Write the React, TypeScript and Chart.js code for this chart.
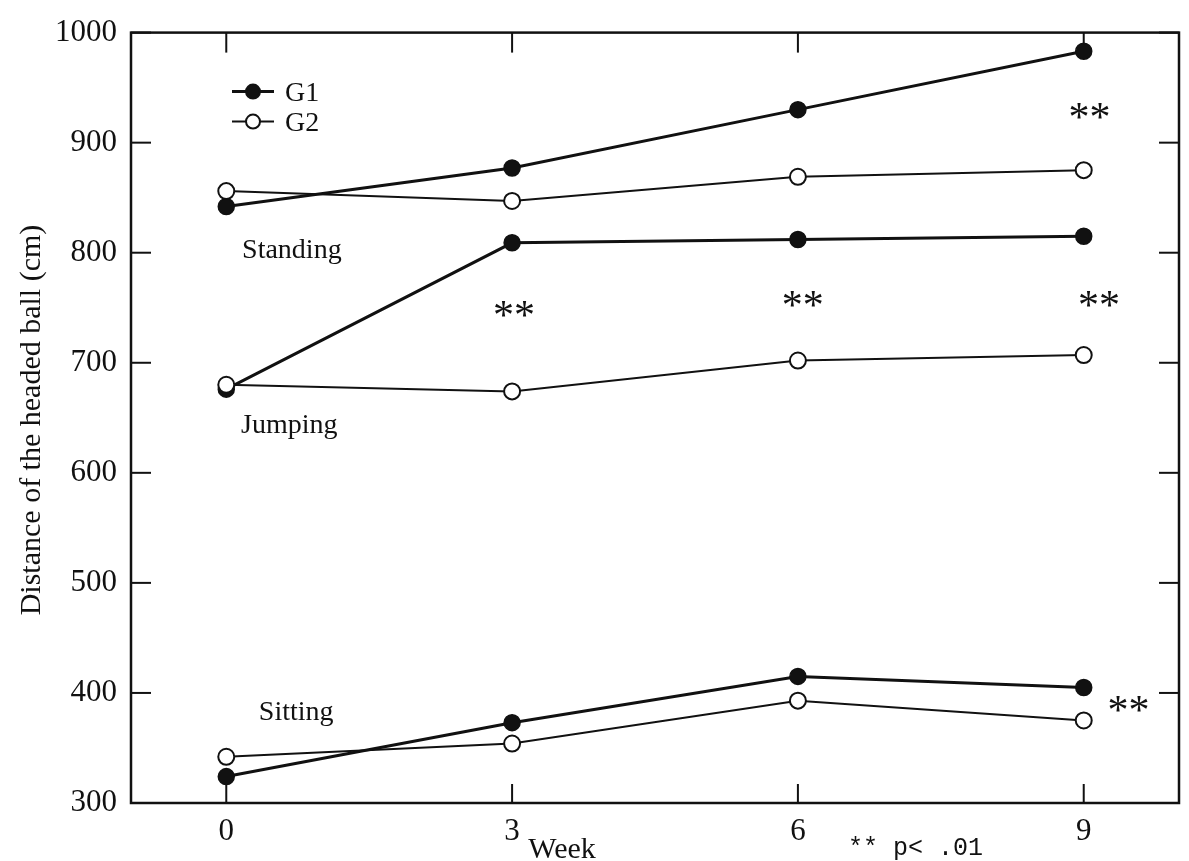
import React, { useEffect, useRef } from "react";
import { Chart, registerables } from "chart.js";

Chart.register(...registerables);

// ---- data ----
const weeks = [0, 3, 6, 9];
const standingG1 = [842, 877, 930, 983];
const standingG2 = [856, 847, 869, 875];
const jumpingG1 = [676, 809, 812, 815];
const jumpingG2 = [680, 674, 702, 707];
const sittingG1 = [324, 373, 415, 405];
const sittingG2 = [342, 354, 393, 375];

const xTickValues = [0, 3, 6, 9];
const yTickValues = [300, 400, 500, 600, 700, 800, 900, 1000];
const legendLabels = ["G1", "G2"];
const conditionNames = ["Standing", "Jumping", "Sitting"];
const conditionAnchorX = [0.166, 0.155, 0.342];
const conditionAnchorY = [795, 636, 375];
const sigX = [3.02, 6.05, 9.16, 9.06, 9.47];
const sigY = [749, 758, 758, 929, 390];
const sigText = "**";
const xTitle = "Week";
const yTitle = "Distance of the headed ball (cm)";
const pNote = "** p< .01";

const SERIF = "'Liberation Serif', 'Times New Roman', serif";
const INK = "#111";

function toXY(vals: number[]) {
  return weeks.map((w, i) => ({ x: w, y: vals[i] }));
}

function g1(vals: number[], name: string) {
  return {
    label: name,
    data: toXY(vals),
    borderColor: INK,
    borderWidth: 3,
    pointRadius: 8,
    pointBorderWidth: 1.5,
    pointBackgroundColor: INK,
    pointBorderColor: INK,
    showLine: true,
    order: 1,
  };
}
function g2(vals: number[], name: string) {
  return {
    label: name,
    data: toXY(vals),
    borderColor: INK,
    borderWidth: 2,
    pointRadius: 8,
    pointBorderWidth: 2,
    pointBackgroundColor: "#fff",
    pointBorderColor: INK,
    showLine: true,
    order: 0,
  };
}

function line(ctx: CanvasRenderingContext2D, x1: number, y1: number, x2: number, y2: number) {
  ctx.beginPath();
  ctx.moveTo(x1, y1);
  ctx.lineTo(x2, y2);
  ctx.stroke();
}

function centeredText(ctx: CanvasRenderingContext2D, text: string, cx: number, cy: number) {
  const m = ctx.measureText(text);
  const asc = m.actualBoundingBoxAscent;
  const desc = m.actualBoundingBoxDescent;
  ctx.textAlign = "center";
  ctx.textBaseline = "alphabetic";
  ctx.fillText(text, cx, cy + (asc - desc) / 2);
}

const framePlugin = {
  id: "frame",
  beforeDatasetsDraw(chart: any) {
    const { ctx, chartArea: a, scales } = chart;
    const xs = scales.x;
    const ys = scales.y;
    ctx.save();
    ctx.strokeStyle = INK;
    ctx.lineWidth = 2.5;
    ctx.strokeRect(a.left, a.top, a.right - a.left, a.bottom - a.top);
    ctx.lineWidth = 2;
    xTickValues.forEach((v) => {
      const px = xs.getPixelForValue(v);
      line(ctx, px, a.bottom, px, a.bottom - 19);
      line(ctx, px, a.top, px, a.top + 20);
    });
    yTickValues.forEach((v) => {
      const py = ys.getPixelForValue(v);
      line(ctx, a.left, py, a.left + 20, py);
      line(ctx, a.right, py, a.right - 20, py);
    });
    ctx.restore();
  },
  afterDraw(chart: any) {
    const { ctx, chartArea: a, scales } = chart;
    const xs = scales.x;
    const ys = scales.y;
    ctx.save();
    ctx.fillStyle = INK;
    ctx.strokeStyle = INK;

    // legend
    legendLabels.forEach((lab, i) => {
      const y = a.top + 59 + i * 30;
      ctx.lineWidth = i === 0 ? 3 : 2;
      line(ctx, a.left + 101, y, a.left + 143, y);
      ctx.beginPath();
      ctx.arc(a.left + 122, y, 7, 0, Math.PI * 2);
      ctx.fillStyle = i === 0 ? INK : "#fff";
      ctx.fill();
      ctx.lineWidth = 2;
      ctx.stroke();
      ctx.fillStyle = INK;
      ctx.font = `28px ${SERIF}`;
      ctx.textAlign = "left";
      ctx.textBaseline = "alphabetic";
      ctx.fillText(lab, a.left + 154, y + 9);
    });

    // condition names
    ctx.font = `28px ${SERIF}`;
    ctx.textAlign = "left";
    ctx.textBaseline = "alphabetic";
    conditionNames.forEach((n, i) => {
      ctx.fillText(n, xs.getPixelForValue(conditionAnchorX[i]), ys.getPixelForValue(conditionAnchorY[i]));
    });

    // significance marks
    ctx.font = `42px ${SERIF}`;
    sigX.forEach((x, i) => {
      centeredText(ctx, sigText, xs.getPixelForValue(x), ys.getPixelForValue(sigY[i]));
    });

    // axis titles
    ctx.font = `30px ${SERIF}`;
    ctx.textAlign = "center";
    ctx.textBaseline = "alphabetic";
    ctx.fillText(xTitle, 562, 858);

    ctx.save();
    ctx.translate(40, 420);
    ctx.rotate(-Math.PI / 2);
    ctx.textAlign = "center";
    ctx.textBaseline = "alphabetic";
    ctx.font = `30px ${SERIF}`;
    ctx.fillText(yTitle, 0, 0);
    ctx.restore();

    // p note
    ctx.font = `25px 'Liberation Mono', monospace`;
    ctx.textAlign = "left";
    ctx.fillText(pNote, 848, 855);

    ctx.restore();
  },
};

export default function App() {
  const ref = useRef<HTMLCanvasElement | null>(null);
  useEffect(() => {
    if (!ref.current) return;
    const chart = new Chart(ref.current, {
      type: "scatter",
      data: {
        datasets: [
          g1(standingG1, "Standing G1"),
          g2(standingG2, "Standing G2"),
          g1(jumpingG1, "Jumping G1"),
          g2(jumpingG2, "Jumping G2"),
          g1(sittingG1, "Sitting G1"),
          g2(sittingG2, "Sitting G2"),
        ] as any,
      },
      options: {
        animation: false,
        responsive: true,
        maintainAspectRatio: false,
        layout: { padding: { top: 24, right: 1, left: 0, bottom: 0 } },
        plugins: { legend: { display: false }, tooltip: { enabled: false } },
        scales: {
          x: {
            type: "linear",
            min: -1,
            max: 10,
            grid: { display: false, drawTicks: false },
            border: { display: false },
            afterBuildTicks: (s: any) => {
              s.ticks = xTickValues.map((v) => ({ value: v }));
            },
            afterFit: (s: any) => {
              s.height = 58;
            },
            ticks: {
              color: INK,
              padding: 10,
              font: { family: SERIF, size: 31 },
              callback: (v: any) => String(v),
            },
          },
          y: {
            type: "linear",
            min: 300,
            max: 1000,
            grid: { display: false, drawTicks: false },
            border: { display: false },
            afterBuildTicks: (s: any) => {
              s.ticks = yTickValues.map((v) => ({ value: v }));
            },
            afterFit: (s: any) => {
              s.width = 131;
            },
            ticks: {
              color: INK,
              padding: 14,
              font: { family: SERIF, size: 31 },
              callback: (v: any) => String(v),
            },
          },
        },
      } as any,
      plugins: [framePlugin],
    });
    return () => chart.destroy();
  }, []);

  return (
    <div style={{ position: "absolute", left: 0, top: 0, width: 1189, height: 861, background: "#fff" }}>
      <canvas ref={ref} />
    </div>
  );
}
